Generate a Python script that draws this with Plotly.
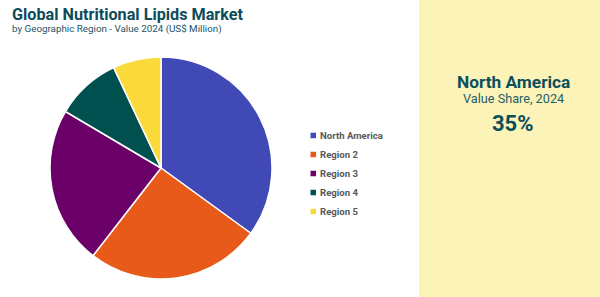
import plotly.graph_objects as go

# ---- data ----
regions = ["North America", "Region 2", "Region 3", "Region 4", "Region 5"]
values = [35, 25.5, 23, 9.5, 7]
colors = ["#4049B5", "#E85A19", "#6A0068", "#00504F", "#FCD93A"]

title = "Global Nutritional Lipids Market"
subtitle = "by Geographic Region - Value 2024 (US$ Million)"
hl_region = "North America"
hl_label = "Value Share, 2024"
hl_value = "35%"

W, H = 600, 297
def px(x):
    return x / W
def py(y):
    return 1 - y / H

fig = go.Figure()
fig.add_trace(go.Pie(
    labels=regions, values=values, sort=False, direction="clockwise", rotation=0,
    marker=dict(colors=colors, line=dict(color="white", width=1.5)),
    textinfo="none", hoverinfo="label+percent", showlegend=False,
    domain=dict(x=[px(50), px(272)], y=[py(279), py(57)]),
))

shapes = [dict(type="rect", xref="paper", yref="paper", x0=px(419), x1=1, y0=0, y1=1,
               fillcolor="#FCF3B9", line=dict(width=0), layer="below")]
annotations = [
    dict(text=f"<b>{title}</b>", x=px(9.5), y=py(15), xanchor="left", yanchor="middle",
         font=dict(family="Roboto", size=16.2, color="#0D4C5A")),
    dict(text=subtitle, x=px(9.5), y=py(29), xanchor="left", yanchor="middle",
         font=dict(family="Roboto", size=9.8, color="#1E5363")),
    dict(text=f"<b>{hl_region}</b>", x=px(513), y=py(82), xanchor="center", yanchor="middle",
         font=dict(family="Roboto", size=17.3, color="#0B4F5C")),
    dict(text=hl_label, x=px(513), y=py(99), xanchor="center", yanchor="middle",
         font=dict(family="Roboto", size=12.7, color="#1E5E66")),
    dict(text=f"<b>{hl_value}</b>", x=px(513), y=py(123), xanchor="center", yanchor="middle",
         font=dict(family="Roboto", size=22, color="#0B4F5C")),
]

leg_y0, leg_dy = 135.5, 19
for i, (name, c) in enumerate(zip(regions, colors)):
    yc = leg_y0 + i * leg_dy
    shapes.append(dict(type="rect", xref="paper", yref="paper",
                       x0=px(310.5), x1=px(316), y0=py(yc + 2.75), y1=py(yc - 2.75),
                       fillcolor=c, line=dict(width=0)))
    annotations.append(dict(text=f"<b>{name}</b>", x=px(317.5), y=py(yc), xanchor="left",
                            yanchor="middle",
                            font=dict(family="Roboto", size=9.6, color="#595959")))

for a in annotations:
    a.update(xref="paper", yref="paper", showarrow=False)

fig.update_layout(
    width=W, height=H, margin=dict(l=0, r=0, t=0, b=0),
    paper_bgcolor="white", plot_bgcolor="white",
    shapes=shapes, annotations=annotations, showlegend=False,
)
fig.write_html("out.html")
